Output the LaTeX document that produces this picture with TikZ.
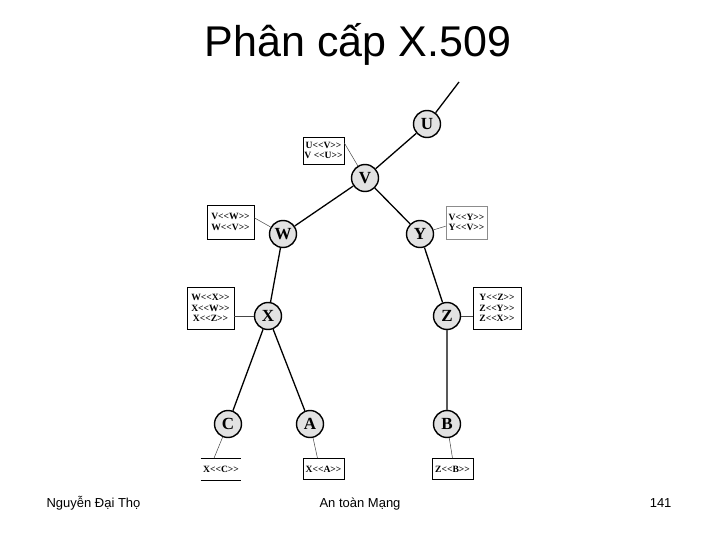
\documentclass[tikz,border=0pt]{standalone}
\usepackage{fontspec}
\setmainfont{Liberation Serif}[Ligatures=TeXOff]
\newfontfamily\slidefont{Liberation Sans}
\usetikzlibrary{positioning}
\definecolor{caFill}{RGB}{226,226,226}
\definecolor{tieCol}{RGB}{70,70,70}
\tikzset{
  ca/.style={circle,draw,line width=1.4pt,fill=caFill,minimum size=27pt,inner sep=0pt,
             font=\fontsize{17}{17}\selectfont\bfseries},
  cert/.style={draw,line width=0.6pt,align=center,inner sep=0pt,
               font=\fontsize{9.6}{10.6}\selectfont\bfseries},
  link/.style={line width=1.3pt},
  tie/.style={line width=0.5pt,draw=tieCol},
}

\begin{document}
\begin{tikzpicture}[x=1pt,y=-1pt]
    \useasboundingbox[fill=white] (0,0) rectangle (720,540);
    % --- title and footer ---
    \node[anchor=base,font=\slidefont\fontsize{43}{43}\selectfont] (title) at (358,57) {Phân cấp X.509};
    \node[anchor=base west,font=\slidefont\fontsize{13}{13}\selectfont] (author) at (43,507) {Nguyễn Đại Thọ};
    \node[anchor=base,font=\slidefont\fontsize{13}{13}\selectfont] (course) at (360,507) {An toàn Mạng};
    \node[anchor=base east,font=\slidefont\fontsize{13}{13}\selectfont] (page) at (675,507) {141};
    % --- certification authorities ---
    \node[ca] (U) at (427,124) {U};
    \node[ca] (V) at (365,178) {V};
    \node[ca] (W) at (283,234) {W};
    \node[ca] (Y) at (420,234) {Y};
    \node[ca] (X) at (268,316) {X};
    \node[ca] (Z) at (447,316) {Z};
    \node[ca] (C) at (228,424) {C};
    \node[ca] (A) at (310,424) {A};
    \node[ca] (B) at (447,424) {B};
    \coordinate (up) at (459,82);
    % --- hierarchy ---
    \draw[link] (U) -- (up);
    \draw[link] (U) -- (V);
    \draw[link] (V) -- (W);
    \draw[link] (V) -- (Y);
    \draw[link] (W) -- (X);
    \draw[link] (Y) -- (Z);
    \draw[link] (X) -- (C);
    \draw[link] (X) -- (A);
    \draw[link,draw=black!65,line width=1.1pt] (Z) -- (B);
    % --- certificates held ---
    \node[cert,minimum width=41pt,minimum height=27pt] (uvbox) at (323.5,150.5) {U<<V>>\\V <<U>>};
    \node[cert,minimum width=47pt,minimum height=34pt] (wvbox) at (230.5,222) {V<<W>>\\W<<V>>};
    \node[cert,draw=black!45,minimum width=41pt,minimum height=33pt] (yvbox) at (466.5,222.5) {V<<Y>>\\Y<<V>>};
    \node[cert,minimum width=47pt,minimum height=42pt] (xbox) at (210.5,308) {W<<X>>\\X<<W>>\\X<<Z>>};
    \node[cert,minimum width=48pt,minimum height=42pt] (zbox) at (497,308) {Y<<Z>>\\Z<<Y>>\\Z<<X>>};
    \node[cert,draw=none,minimum width=40pt,minimum height=21pt,below=20pt of C,xshift=-7pt] (cbox) {X<<C>>};
    \node[cert,minimum width=41pt,minimum height=21pt,below=20pt of A,xshift=13.5pt] (abox) {X<<A>>};
    \node[cert,minimum width=41pt,minimum height=21pt,below=20pt of B,xshift=5.5pt] (bbox) {Z<<B>>};
    \draw[line width=0.6pt] (cbox.north west) -- (cbox.north east);
    \draw[line width=0.6pt] (cbox.south west) -- (cbox.south east);
    \draw[tie] (uvbox.20) -- (V);
    \draw[tie] (wvbox.10) -- (W);
    \draw[tie] (Y) -- (yvbox.190);
    \draw[tie] (X.west) -- (X.west -| xbox.east);
    \draw[tie] (Z.east) -- (Z.east -| zbox.west);
    \draw[tie] (C) -- ([xshift=-7pt]cbox.north);
    \draw[tie] (A) -- ([xshift=-6pt]abox.north);
    \draw[tie] (B) -- (bbox.north);
\end{tikzpicture}
\end{document}
